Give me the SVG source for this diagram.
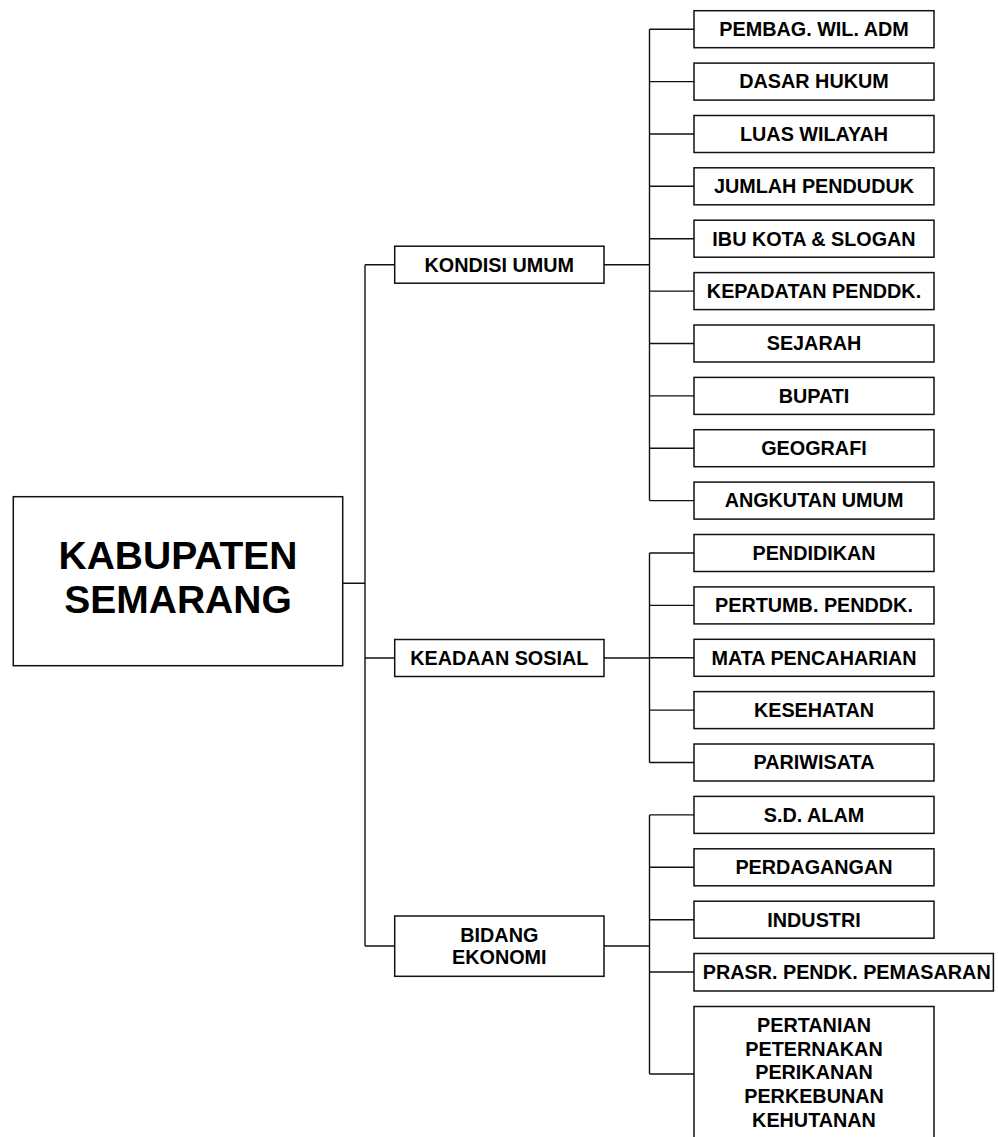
<svg xmlns="http://www.w3.org/2000/svg" width="998" height="1137" viewBox="0 0 998 1137">
<style>
.box{fill:#fff;stroke:#111;stroke-width:1.5}
.ln{fill:none;stroke:#111;stroke-width:1.4}
text{font-family:"Liberation Sans",Arial,sans-serif;font-weight:bold;fill:#000;text-anchor:middle}
.t{font-size:19.8px}
.big{font-size:39px}
</style>
<rect width="998" height="1137" fill="#fff"/>
<g id="connectors" class="ln">
<path d="M342.7 583.3H365M365 264.7V946M365 264.7H394.7M365 658H394.7M365 946H394.7"/>
<path d="M604 264.7H649.5M649.5 29.2V500.6M649.5 29.2H694M649.5 81.6H694M649.5 134H694M649.5 186.3H694M649.5 238.7H694M649.5 291.1H694M649.5 343.5H694M649.5 395.9H694M649.5 448.2H694M649.5 500.6H694"/>
<path d="M604 658H649.5M649.5 553V762.5M649.5 553H694M649.5 605.4H694M649.5 657.8H694M649.5 710.1H694M649.5 762.5H694"/>
<path d="M604 946H649.5M649.5 814.9V1074M649.5 814.9H694M649.5 867.3H694M649.5 919.7H694M649.5 972H694M649.5 1074H694"/>
</g>
<g id="root"><rect class="box" x="13.3" y="496.7" width="329.4" height="169"/><text class="big" x="178" y="569.3">KABUPATEN</text><text class="big" x="178" y="612.7">SEMARANG</text></g>
<g id="kondisi"><rect class="box" x="394.7" y="246.2" width="209.3" height="37"/><text class="t" x="499.3" y="271.6">KONDISI UMUM</text></g>
<g id="sosial"><rect class="box" x="394.7" y="639.5" width="209.3" height="37"/><text class="t" x="499.3" y="665">KEADAAN SOSIAL</text></g>
<g id="ekonomi"><rect class="box" x="394.7" y="916" width="209.3" height="60.3"/><text class="t" x="499.3" y="941.7">BIDANG</text><text class="t" x="499.3" y="964">EKONOMI</text></g>
<g id="n1"><rect class="box" x="694" y="10.7" width="240" height="37"/><text class="t" x="814" y="36">PEMBAG. WIL. ADM</text></g>
<g id="n2"><rect class="box" x="694" y="63.1" width="240" height="37"/><text class="t" x="814" y="88.4">DASAR HUKUM</text></g>
<g id="n3"><rect class="box" x="694" y="115.5" width="240" height="37"/><text class="t" x="814" y="140.8">LUAS WILAYAH</text></g>
<g id="n4"><rect class="box" x="694" y="167.8" width="240" height="37"/><text class="t" x="814" y="193.1">JUMLAH PENDUDUK</text></g>
<g id="n5"><rect class="box" x="694" y="220.2" width="240" height="37"/><text class="t" x="814" y="245.5">IBU KOTA &amp; SLOGAN</text></g>
<g id="n6"><rect class="box" x="694" y="272.6" width="240" height="37"/><text class="t" x="814" y="297.9">KEPADATAN PENDDK.</text></g>
<g id="n7"><rect class="box" x="694" y="325" width="240" height="37"/><text class="t" x="814" y="350.3">SEJARAH</text></g>
<g id="n8"><rect class="box" x="694" y="377.4" width="240" height="37"/><text class="t" x="814" y="402.7">BUPATI</text></g>
<g id="n9"><rect class="box" x="694" y="429.7" width="240" height="37"/><text class="t" x="814" y="455">GEOGRAFI</text></g>
<g id="n10"><rect class="box" x="694" y="482.1" width="240" height="37"/><text class="t" x="814" y="507.4">ANGKUTAN UMUM</text></g>
<g id="n11"><rect class="box" x="694" y="534.5" width="240" height="37"/><text class="t" x="814" y="559.8">PENDIDIKAN</text></g>
<g id="n12"><rect class="box" x="694" y="586.9" width="240" height="37"/><text class="t" x="814" y="612.2">PERTUMB. PENDDK.</text></g>
<g id="n13"><rect class="box" x="694" y="639.3" width="240" height="37"/><text class="t" x="814" y="664.6">MATA PENCAHARIAN</text></g>
<g id="n14"><rect class="box" x="694" y="691.6" width="240" height="37"/><text class="t" x="814" y="716.9">KESEHATAN</text></g>
<g id="n15"><rect class="box" x="694" y="744" width="240" height="37"/><text class="t" x="814" y="769.3">PARIWISATA</text></g>
<g id="n16"><rect class="box" x="694" y="796.4" width="240" height="37"/><text class="t" x="814" y="821.7">S.D. ALAM</text></g>
<g id="n17"><rect class="box" x="694" y="848.8" width="240" height="37"/><text class="t" x="814" y="874.1">PERDAGANGAN</text></g>
<g id="n18"><rect class="box" x="694" y="901.2" width="240" height="37"/><text class="t" x="814" y="926.5">INDUSTRI</text></g>
<g id="n19"><rect class="box" x="694" y="953.5" width="299.4" height="37.5"/><text class="t" x="846.7" y="978.8">PRASR. PENDK. PEMASARAN</text></g>
<g id="n20"><rect class="box" x="694" y="1006.5" width="240" height="140"/><text class="t" x="814" y="1031.7">PERTANIAN</text><text class="t" x="814" y="1055.5">PETERNAKAN</text><text class="t" x="814" y="1079.4">PERIKANAN</text><text class="t" x="814" y="1103.3">PERKEBUNAN</text><text class="t" x="814" y="1127.2">KEHUTANAN</text></g>
</svg>
